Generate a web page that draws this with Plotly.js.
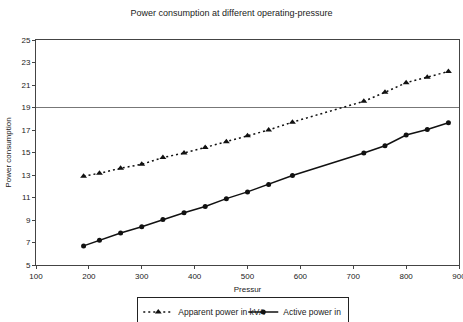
<!DOCTYPE html>
<html>
<head>
<meta charset="utf-8">
<script src="https://cdn.plot.ly/plotly-3.0.1.min.js"></script>
<style>html,body{margin:0;padding:0;background:#fff}#chart{width:463px;height:322px}</style>
</head>
<body>
<div id="chart"></div>
<script>
const pressure = [190, 220, 260, 300, 340, 380, 420, 460, 500, 540, 585, 720, 760, 800, 840, 880];
const apparentPower = [12.9, 13.15, 13.6, 13.95, 14.55, 14.95, 15.45, 15.95, 16.5, 17.0, 17.7, 19.55, 20.35, 21.2, 21.7, 22.2];
const activePower = [6.7, 7.2, 7.85, 8.4, 9.05, 9.65, 10.2, 10.9, 11.5, 12.15, 12.95, 14.95, 15.6, 16.55, 17.05, 17.65];
const xTicks = [100, 200, 300, 400, 500, 600, 700, 800, 900];
const yTicks = [5, 7, 9, 11, 13, 15, 17, 19, 21, 23, 25];
const refLineY = 19;

const font = {family: 'Liberation Sans, Arial, sans-serif', size: 8, color: '#222'};

const traces = [
  {
    x: pressure, y: apparentPower, name: 'Apparent power in kVA', type: 'scatter', mode: 'lines+markers',
    line: {color: '#111', width: 1.5, dash: '2px,3px'},
    marker: {symbol: 'triangle-up', size: 6, color: '#111'}
  },
  {
    x: pressure, y: activePower, name: 'Active power in', type: 'scatter', mode: 'lines+markers',
    line: {color: '#111', width: 1.5},
    marker: {symbol: 'circle', size: 5, color: '#111'}
  }
];

const layout = {
  width: 463, height: 322,
  margin: {l: 36, r: 4, t: 40, b: 57, pad: 0, autoexpand: false},
  paper_bgcolor: '#fff', plot_bgcolor: '#fff',
  font: font,
  showlegend: true,
  title: {text: 'Power consumption at different operating-pressure', x: 0.5, xanchor: 'center', y: 0.96, yanchor: 'middle', font: {family: font.family, size: 9, color: '#222'}},
  xaxis: {
    range: [100, 900], tickvals: xTicks, ticktext: xTicks.map(String), automargin: false,
    ticklabeloverflow: 'allow',
    showgrid: false, zeroline: false, showline: true, linecolor: '#444', linewidth: 1, mirror: true,
    ticks: 'outside', ticklen: 3, tickcolor: '#444', tickfont: font,
    title: {text: 'Pressur', font: {family: font.family, size: 8, color: '#222'}, standoff: 6}
  },
  yaxis: {
    range: [5, 25], tickvals: yTicks, ticktext: yTicks.map(String), automargin: false,
    showgrid: false, zeroline: false, showline: true, linecolor: '#444', linewidth: 1, mirror: true,
    ticks: 'outside', ticklen: 3, tickcolor: '#444', tickfont: font,
    title: {text: 'Power consumption', font: {family: font.family, size: 8, color: '#222'}, standoff: 8}
  },
  shapes: [
    {type: 'line', xref: 'paper', yref: 'y', x0: 0, x1: 1, y0: refLineY, y1: refLineY, line: {color: '#777', width: 1}, layer: 'below'}
  ],
  legend: {
    orientation: 'h', x: 0.49, xanchor: 'center', y: -0.14, yanchor: 'top',
    bordercolor: '#222', borderwidth: 1, bgcolor: '#fff',
    font: {family: font.family, size: 8.5, color: '#222'},
    itemwidth: 30, tracegroupgap: 0, entrywidth: 60
  }
};

Plotly.newPlot('chart', traces, layout, {displayModeBar: false, staticPlot: true});
</script>
</body>
</html>
